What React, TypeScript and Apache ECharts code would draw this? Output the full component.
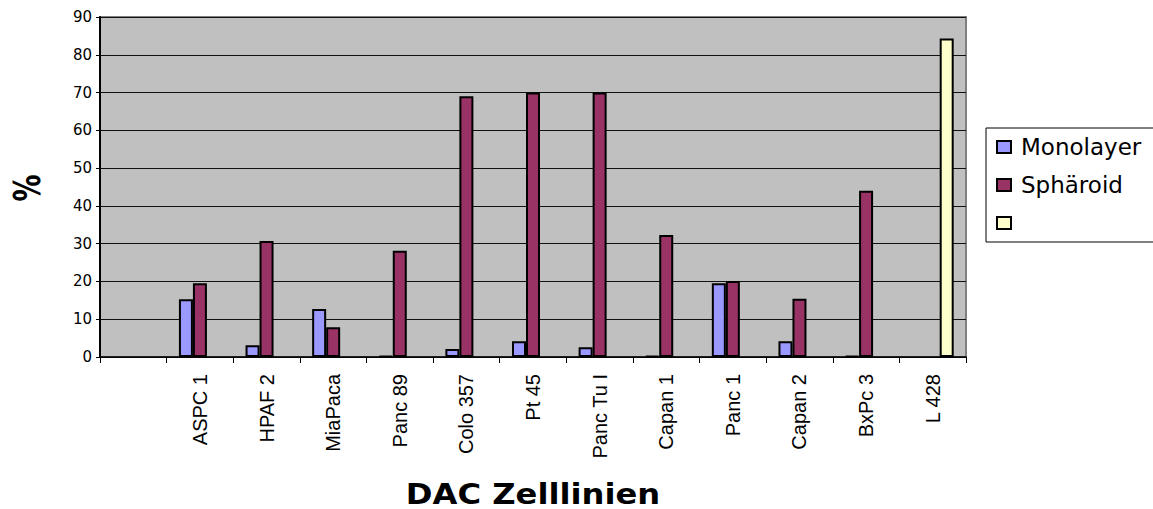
import React, { useEffect, useRef } from "react";
import * as echarts from "echarts";

const categories = ["", "ASPC 1", "HPAF 2", "MiaPaca", "Panc 89", "Colo 357", "Pt 45", "Panc Tu I", "Capan 1", "Panc 1", "Capan 2", "BxPc 3", "L 428"];
const monolayer = [null, 15.3, 3.1, 12.7, 0.3, 2.1, 4.2, 2.6, 0.3, 19.5, 4.2, 0.3, null];
const spharoid = [null, 19.5, 30.7, 7.9, 28.1, 69.0, 70.0, 70.0, 32.3, 20.1, 15.4, 44.0, null];
const third = [null, null, null, null, null, null, null, null, null, null, null, null, 84.3];
const yTicks = { min: 0, max: 90, interval: 10 };

export default function App() {
  const ref = useRef<HTMLDivElement>(null);
  useEffect(() => {
    const chart = echarts.init(ref.current!, null, { renderer: "svg" });
    const barBase = { type: "bar", barWidth: 14, barGap: "0%" };
    chart.setOption({
      animation: false,
      backgroundColor: "#ffffff",
      grid: {
        left: 100,
        right: 187,
        top: 17,
        bottom: 152,
        show: true,
        backgroundColor: "#C0C0C0",
        borderColor: "#808080",
        borderWidth: 2,
        containLabel: false,
        outerBoundsMode: "none",
      },
      legend: {
        orient: "vertical",
        left: 986,
        top: 128,
        padding: [7, 20, 7, 10],
        itemGap: 14,
        itemWidth: 14,
        itemHeight: 12,
        backgroundColor: "#ffffff",
        borderColor: "#000000",
        borderWidth: 1,
        borderRadius: 0,
        icon: "rect",
        textStyle: { fontFamily: "DejaVu Sans", fontSize: 23, color: "#000", lineHeight: 24, padding: [0, 0, 0, 5] },
        data: ["Monolayer", "Sphäroid", " "],
      },
      xAxis: {
        type: "category",
        data: categories,
        axisLine: { show: true, lineStyle: { color: "#000", width: 1.5 } },
        axisTick: { show: true, length: 6, lineStyle: { color: "#000" } },
        axisLabel: {
          rotate: 90,
          interval: 0,
          margin: 17,
          fontFamily: "Liberation Sans",
          fontSize: 20,
          color: "#000",
        },
        splitLine: { show: false },
      },
      yAxis: {
        type: "value",
        min: yTicks.min,
        max: yTicks.max,
        interval: yTicks.interval,
        axisLine: { show: true, lineStyle: { color: "#000", width: 2 } },
        axisTick: { show: true, length: 4, lineStyle: { color: "#000" } },
        axisLabel: { margin: 8, fontFamily: "DejaVu Sans", fontSize: 15, color: "#000" },
        splitLine: { show: true, lineStyle: { color: "#111", width: 1 } },
      },
      graphic: [
        {
          type: "text",
          x: 27,
          y: 188,
          rotation: Math.PI / 2,
          scaleY: 1.4,
          style: {
            text: "%",
            fontFamily: "DejaVu Sans",
            fontWeight: "bold",
            fontSize: 27,
            fill: "#000",
            align: "center",
            verticalAlign: "middle",
          },
        },
        {
          type: "text",
          x: 533,
          y: 494,
          scaleX: 1.15,
          style: {
            text: "DAC Zelllinien",
            fontFamily: "DejaVu Sans",
            fontWeight: "bold",
            fontSize: 28,
            fill: "#000",
            align: "center",
            verticalAlign: "middle",
          },
        },
      ],
      series: [
        {
          ...barBase,
          name: "Monolayer",
          data: monolayer,
          itemStyle: { color: "#9999FF", borderColor: "#000", borderWidth: 2 },
        },
        {
          ...barBase,
          name: "Sphäroid",
          data: spharoid,
          itemStyle: { color: "#993366", borderColor: "#000", borderWidth: 2 },
        },
        {
          ...barBase,
          name: " ",
          data: third,
          itemStyle: { color: "#FFFFCC", borderColor: "#000", borderWidth: 2 },
        },
      ],
    });
    return () => chart.dispose();
  }, []);
  return <div ref={ref} style={{ width: 1153, height: 509, position: "absolute", left: 0, top: 0 }} />;
}
